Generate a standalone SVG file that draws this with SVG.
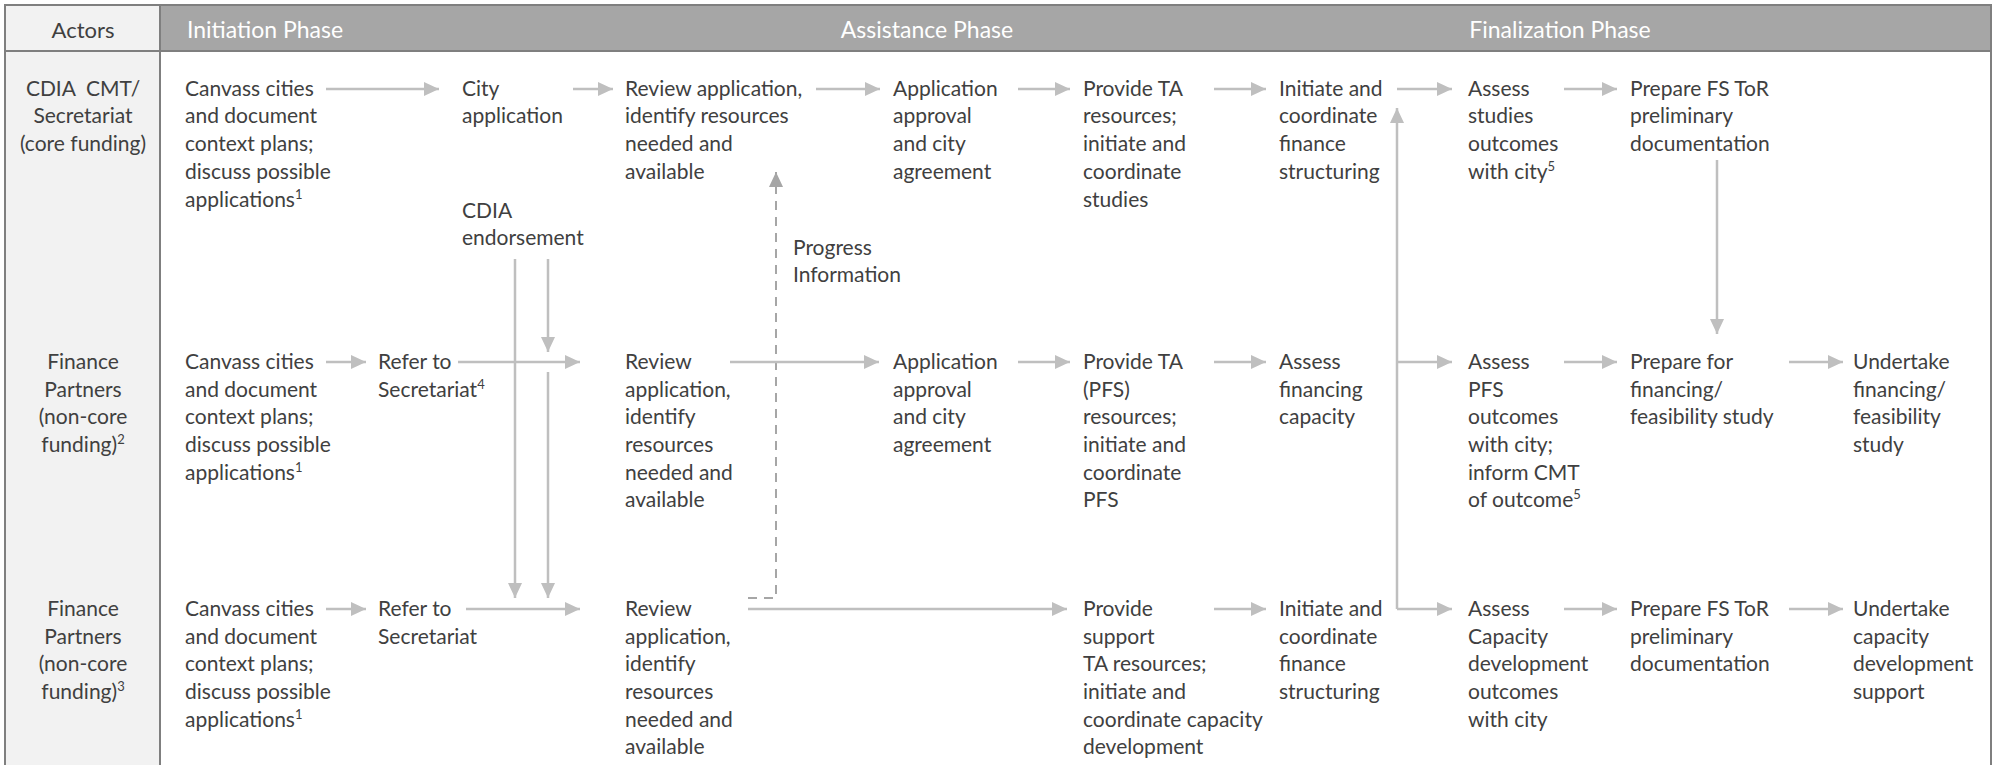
<svg xmlns="http://www.w3.org/2000/svg" width="1997" height="765" viewBox="0 0 1997 765">
  <style>
    .t { font-family: Lato, "Open Sans", "Liberation Sans", sans-serif; font-size: 21px; fill: #404040; }
    .c { text-anchor: middle; }
    .hd { font-family: Lato, "Open Sans", "Liberation Sans", sans-serif; font-size: 23px; fill: #ffffff; }
    .sup { font-size: 13px; baseline-shift: super; }
    .ln { stroke: #bfbfbf; stroke-width: 2.5; fill: none; }
    .dash { stroke: #a6a6a6; stroke-width: 2; fill: none; stroke-dasharray: 9 7; }
  </style>
  <defs>
    <marker id="ah" markerUnits="userSpaceOnUse" markerWidth="16" markerHeight="14" refX="15" refY="7" orient="auto">
      <path d="M0,0 L15,7 L0,14 z" fill="#bfbfbf"/>
    </marker>
    <marker id="ahd" markerUnits="userSpaceOnUse" markerWidth="16" markerHeight="14" refX="15" refY="7" orient="auto">
      <path d="M0,0 L15,7 L0,14 z" fill="#a6a6a6"/>
    </marker>
  </defs>

  <!-- frame and header -->
  <rect x="0" y="0" width="1997" height="765" fill="#ffffff"/>
  <rect x="5" y="5" width="155" height="770" fill="#f2f2f2" stroke="#7f7f7f" stroke-width="2"/>
  <rect x="160" y="5" width="1831" height="46" fill="#a6a6a6" stroke="#7f7f7f" stroke-width="2"/>
  <line x1="1991" y1="51" x2="1991" y2="765" stroke="#7f7f7f" stroke-width="2"/>
  <line x1="5" y1="51" x2="160" y2="51" stroke="#7f7f7f" stroke-width="2"/>
  <text class="t c" x="83" y="38" style="font-size:22px">Actors</text>
  <text class="hd" x="187" y="38">Initiation Phase</text>
  <text class="hd" x="927" y="38" text-anchor="middle">Assistance Phase</text>
  <text class="hd" x="1560" y="38" text-anchor="middle">Finalization Phase</text>

  <!-- actors -->
  <g id="actor-cmt">
    <text class="t c" x="83" y="96">CDIA&#160; CMT/</text>
    <text class="t c" x="83" y="123">Secretariat</text>
    <text class="t c" x="83" y="151">(core funding)</text>
  </g>
  <g id="actor-fp-noncore-pfs">
    <text class="t c" x="83" y="369">Finance</text>
    <text class="t c" x="83" y="397">Partners</text>
    <text class="t c" x="83" y="424">(non-core</text>
    <text class="t c" x="83" y="452">funding)<tspan class="sup">2</tspan></text>
  </g>
  <g id="actor-fp-noncore-cd">
    <text class="t c" x="83" y="616">Finance</text>
    <text class="t c" x="83" y="644">Partners</text>
    <text class="t c" x="83" y="671">(non-core</text>
    <text class="t c" x="83" y="699">funding)<tspan class="sup">3</tspan></text>
  </g>

  <!-- row 1: CDIA CMT / Secretariat -->
  <g id="r1-canvass">
    <text class="t" x="185" y="96">Canvass cities</text>
    <text class="t" x="185" y="123">and document</text>
    <text class="t" x="185" y="151">context plans;</text>
    <text class="t" x="185" y="179">discuss possible</text>
    <text class="t" x="185" y="207">applications<tspan class="sup">1</tspan></text>
  </g>
  <g id="r1-city">
    <text class="t" x="462" y="96">City</text>
    <text class="t" x="462" y="123">application</text>
  </g>
  <g id="r1-endorse">
    <text class="t" x="462" y="218">CDIA</text>
    <text class="t" x="462" y="245">endorsement</text>
  </g>
  <g id="r1-review">
    <text class="t" x="625" y="96">Review application,</text>
    <text class="t" x="625" y="123">identify resources</text>
    <text class="t" x="625" y="151">needed and</text>
    <text class="t" x="625" y="179">available</text>
  </g>
  <g id="r1-approval">
    <text class="t" x="893" y="96">Application</text>
    <text class="t" x="893" y="123">approval</text>
    <text class="t" x="893" y="151">and city</text>
    <text class="t" x="893" y="179">agreement</text>
  </g>
  <g id="r1-provide">
    <text class="t" x="1083" y="96">Provide TA</text>
    <text class="t" x="1083" y="123">resources;</text>
    <text class="t" x="1083" y="151">initiate and</text>
    <text class="t" x="1083" y="179">coordinate</text>
    <text class="t" x="1083" y="207">studies</text>
  </g>
  <g id="r1-initiate">
    <text class="t" x="1279" y="96">Initiate and</text>
    <text class="t" x="1279" y="123">coordinate</text>
    <text class="t" x="1279" y="151">finance</text>
    <text class="t" x="1279" y="179">structuring</text>
  </g>
  <g id="r1-assess">
    <text class="t" x="1468" y="96">Assess</text>
    <text class="t" x="1468" y="123">studies</text>
    <text class="t" x="1468" y="151">outcomes</text>
    <text class="t" x="1468" y="179">with city<tspan class="sup">5</tspan></text>
  </g>
  <g id="r1-prepare">
    <text class="t" x="1630" y="96">Prepare FS ToR</text>
    <text class="t" x="1630" y="123">preliminary</text>
    <text class="t" x="1630" y="151">documentation</text>
  </g>
  <g id="progress-label">
    <text class="t" x="793" y="255">Progress</text>
    <text class="t" x="793" y="282">Information</text>
  </g>

  <!-- row 2: Finance Partners (PFS) -->
  <g id="r2-canvass">
    <text class="t" x="185" y="369">Canvass cities</text>
    <text class="t" x="185" y="397">and document</text>
    <text class="t" x="185" y="424">context plans;</text>
    <text class="t" x="185" y="452">discuss possible</text>
    <text class="t" x="185" y="480">applications<tspan class="sup">1</tspan></text>
  </g>
  <g id="r2-refer">
    <text class="t" x="378" y="369">Refer to</text>
    <text class="t" x="378" y="397">Secretariat<tspan class="sup">4</tspan></text>
  </g>
  <g id="r2-review">
    <text class="t" x="625" y="369">Review</text>
    <text class="t" x="625" y="397">application,</text>
    <text class="t" x="625" y="424">identify</text>
    <text class="t" x="625" y="452">resources</text>
    <text class="t" x="625" y="480">needed and</text>
    <text class="t" x="625" y="507">available</text>
  </g>
  <g id="r2-approval">
    <text class="t" x="893" y="369">Application</text>
    <text class="t" x="893" y="397">approval</text>
    <text class="t" x="893" y="424">and city</text>
    <text class="t" x="893" y="452">agreement</text>
  </g>
  <g id="r2-provide">
    <text class="t" x="1083" y="369">Provide TA</text>
    <text class="t" x="1083" y="397">(PFS)</text>
    <text class="t" x="1083" y="424">resources;</text>
    <text class="t" x="1083" y="452">initiate and</text>
    <text class="t" x="1083" y="480">coordinate</text>
    <text class="t" x="1083" y="507">PFS</text>
  </g>
  <g id="r2-capacity">
    <text class="t" x="1279" y="369">Assess</text>
    <text class="t" x="1279" y="397">financing</text>
    <text class="t" x="1279" y="424">capacity</text>
  </g>
  <g id="r2-assess">
    <text class="t" x="1468" y="369">Assess</text>
    <text class="t" x="1468" y="397">PFS</text>
    <text class="t" x="1468" y="424">outcomes</text>
    <text class="t" x="1468" y="452">with city;</text>
    <text class="t" x="1468" y="480">inform CMT</text>
    <text class="t" x="1468" y="507">of outcome<tspan class="sup">5</tspan></text>
  </g>
  <g id="r2-prepare">
    <text class="t" x="1630" y="369">Prepare for</text>
    <text class="t" x="1630" y="397">financing/</text>
    <text class="t" x="1630" y="424">feasibility study</text>
  </g>
  <g id="r2-undertake">
    <text class="t" x="1853" y="369">Undertake</text>
    <text class="t" x="1853" y="397">financing/</text>
    <text class="t" x="1853" y="424">feasibility</text>
    <text class="t" x="1853" y="452">study</text>
  </g>

  <!-- row 3: Finance Partners (capacity development) -->
  <g id="r3-canvass">
    <text class="t" x="185" y="616">Canvass cities</text>
    <text class="t" x="185" y="644">and document</text>
    <text class="t" x="185" y="671">context plans;</text>
    <text class="t" x="185" y="699">discuss possible</text>
    <text class="t" x="185" y="727">applications<tspan class="sup">1</tspan></text>
  </g>
  <g id="r3-refer">
    <text class="t" x="378" y="616">Refer to</text>
    <text class="t" x="378" y="644">Secretariat</text>
  </g>
  <g id="r3-review">
    <text class="t" x="625" y="616">Review</text>
    <text class="t" x="625" y="644">application,</text>
    <text class="t" x="625" y="671">identify</text>
    <text class="t" x="625" y="699">resources</text>
    <text class="t" x="625" y="727">needed and</text>
    <text class="t" x="625" y="754">available</text>
  </g>
  <g id="r3-provide">
    <text class="t" x="1083" y="616">Provide</text>
    <text class="t" x="1083" y="644">support</text>
    <text class="t" x="1083" y="671">TA resources;</text>
    <text class="t" x="1083" y="699">initiate and</text>
    <text class="t" x="1083" y="727">coordinate capacity</text>
    <text class="t" x="1083" y="754">development</text>
  </g>
  <g id="r3-initiate">
    <text class="t" x="1279" y="616">Initiate and</text>
    <text class="t" x="1279" y="644">coordinate</text>
    <text class="t" x="1279" y="671">finance</text>
    <text class="t" x="1279" y="699">structuring</text>
  </g>
  <g id="r3-assess">
    <text class="t" x="1468" y="616">Assess</text>
    <text class="t" x="1468" y="644">Capacity</text>
    <text class="t" x="1468" y="671">development</text>
    <text class="t" x="1468" y="699">outcomes</text>
    <text class="t" x="1468" y="727">with city</text>
  </g>
  <g id="r3-prepare">
    <text class="t" x="1630" y="616">Prepare FS ToR</text>
    <text class="t" x="1630" y="644">preliminary</text>
    <text class="t" x="1630" y="671">documentation</text>
  </g>
  <g id="r3-undertake">
    <text class="t" x="1853" y="616">Undertake</text>
    <text class="t" x="1853" y="644">capacity</text>
    <text class="t" x="1853" y="671">development</text>
    <text class="t" x="1853" y="699">support</text>
  </g>

  <!-- connectors -->
  <g id="connectors">
    <!-- row 1 -->
    <line class="ln" x1="326" y1="89" x2="439" y2="89" marker-end="url(#ah)"/>
    <line class="ln" x1="573" y1="89" x2="613" y2="89" marker-end="url(#ah)"/>
    <line class="ln" x1="816" y1="89" x2="880" y2="89" marker-end="url(#ah)"/>
    <line class="ln" x1="1018" y1="89" x2="1070" y2="89" marker-end="url(#ah)"/>
    <line class="ln" x1="1214" y1="89" x2="1266" y2="89" marker-end="url(#ah)"/>
    <line class="ln" x1="1397" y1="89" x2="1452" y2="89" marker-end="url(#ah)"/>
    <line class="ln" x1="1564" y1="89" x2="1617" y2="89" marker-end="url(#ah)"/>
    <!-- endorsement down to finance partner rows -->
    <line class="ln" x1="515" y1="259" x2="515" y2="598" marker-end="url(#ah)"/>
    <line class="ln" x1="548" y1="259" x2="548" y2="352" marker-end="url(#ah)"/>
    <line class="ln" x1="548" y1="372" x2="548" y2="598" marker-end="url(#ah)"/>
    <!-- progress information (dashed) -->
    <polyline class="dash" points="748,598 776,598 776,172" marker-end="url(#ahd)"/>
    <!-- row 2 -->
    <line class="ln" x1="326" y1="362" x2="366" y2="362" marker-end="url(#ah)"/>
    <line class="ln" x1="458" y1="362" x2="580" y2="362" marker-end="url(#ah)"/>
    <line class="ln" x1="730" y1="362" x2="879" y2="362" marker-end="url(#ah)"/>
    <line class="ln" x1="1018" y1="362" x2="1070" y2="362" marker-end="url(#ah)"/>
    <line class="ln" x1="1214" y1="362" x2="1266" y2="362" marker-end="url(#ah)"/>
    <line class="ln" x1="1397" y1="362" x2="1452" y2="362" marker-end="url(#ah)"/>
    <line class="ln" x1="1564" y1="362" x2="1617" y2="362" marker-end="url(#ah)"/>
    <line class="ln" x1="1789" y1="362" x2="1843" y2="362" marker-end="url(#ah)"/>
    <!-- row 1 prepare down to row 2 prepare -->
    <line class="ln" x1="1717" y1="160" x2="1717" y2="334" marker-end="url(#ah)"/>
    <!-- row 3 -->
    <line class="ln" x1="326" y1="609" x2="366" y2="609" marker-end="url(#ah)"/>
    <line class="ln" x1="466" y1="609" x2="580" y2="609" marker-end="url(#ah)"/>
    <line class="ln" x1="748" y1="609" x2="1067" y2="609" marker-end="url(#ah)"/>
    <line class="ln" x1="1214" y1="609" x2="1266" y2="609" marker-end="url(#ah)"/>
    <polyline class="ln" points="1397,609 1397,108" marker-end="url(#ah)"/>
    <line class="ln" x1="1397" y1="609" x2="1452" y2="609" marker-end="url(#ah)"/>
    <line class="ln" x1="1564" y1="609" x2="1617" y2="609" marker-end="url(#ah)"/>
    <line class="ln" x1="1789" y1="609" x2="1843" y2="609" marker-end="url(#ah)"/>
  </g>
</svg>
